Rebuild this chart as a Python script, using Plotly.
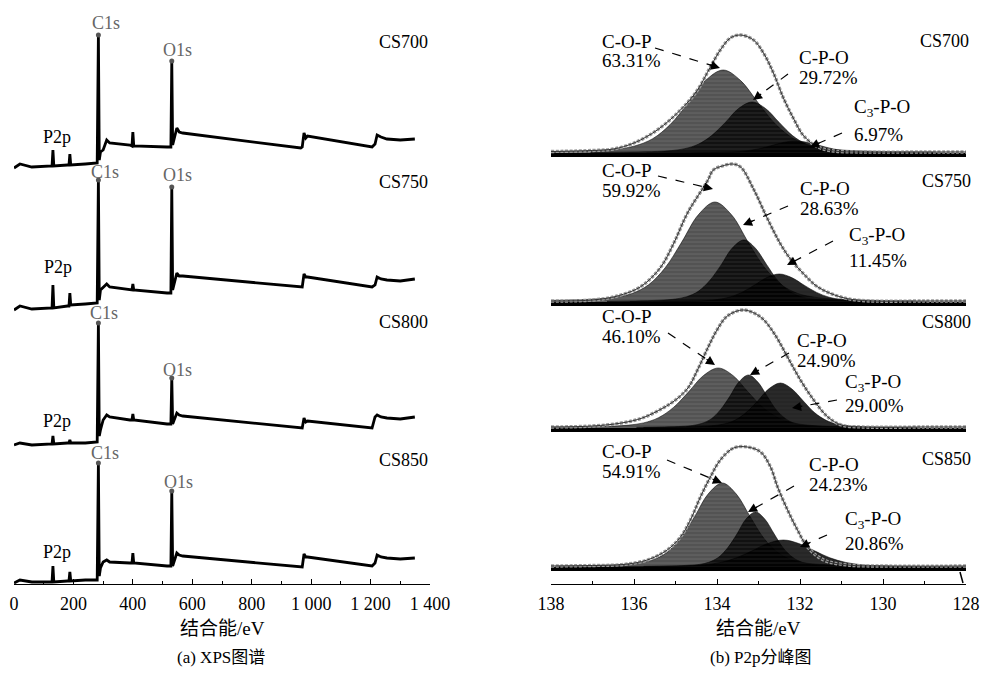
import plotly.graph_objects as go

W, H = 981, 673
def px(x): return x / W
def py(y): return 1 - y / H

SAMPLES = ["CS700", "CS750", "CS800", "CS850"]

# ---------------- (a) XPS survey spectra ----------------
SURVEY_EV = [0, 20, 60, 120, 128, 131, 134, 180, 185, 188, 191, 240, 280, 284, 287, 291,
             300, 312, 322, 390, 397, 400, 403, 515, 528, 531, 534, 548, 556, 568,
             965, 970, 976, 982, 988, 1205, 1215, 1222, 1235, 1255, 1300, 1349]
SURVEY_CS700 = [2, 6, 3, 4, 4, 20, 4, 5, 5, 16, 5, 6, 7, 135, 10, 18,
                20, 30, 27, 25, 24, 38, 24, 23, 23, 109, 25, 42, 38, 37,
                22, 23, 37, 32, 34, 23, 26, 35, 33, 31, 30, 31]
SURVEY_CS750 = [2, 6, 3, 4, 4, 27, 4, 6, 6, 19, 7, 8, 9, 132, 12, 22,
                25, 28, 25, 22, 22, 28, 22, 19, 19, 125, 22, 39, 36, 36,
                25, 25, 38, 35, 35, 25, 27, 35, 33, 32, 31, 33]
SURVEY_CS800 = [3, 5, 3, 4, 4, 12, 4, 5, 5, 8, 5, 5, 6, 125, 12, 18,
                28, 33, 31, 28, 28, 34, 28, 24, 24, 70, 24, 35, 33, 32,
                20, 20, 30, 26, 27, 20, 31, 33, 31, 30, 29, 31]
SURVEY_CS850 = [1, 4, 2, 2, 2, 18, 2, 3, 3, 12, 3, 4, 4, 121, 8, 16,
                22, 24, 22, 21, 21, 31, 21, 18, 18, 93, 18, 31, 29, 28,
                17, 17, 30, 27, 27, 18, 21, 29, 27, 26, 25, 26]
SURVEY_TICKS = [0, 200, 400, 600, 800, 1000, 1200, 1400]
SURVEY_TICKTEXT = ["0", "200", "400", "600", "800", "1 000", "1 200", "1 400"]
PEAK_EV = [284, 531]
PEAK_NAMES = ["C1s", "O1s"]

# ---------------- (b) P2p peak fitting ----------------
P2P_TICKS = [138, 136, 134, 132, 130, 128]
PCT_700 = ["63.31%", "29.72%", "6.97%"]
PCT_750 = ["59.92%", "28.63%", "11.45%"]
PCT_800 = ["46.10%", "24.90%", "29.00%"]
PCT_850 = ["54.91%", "24.23%", "20.86%"]
COMP_NAMES = ["C-O-P", "C-P-O", "C<sub>3</sub>-P-O"]

ENV_X_700 = [138, 137, 136.5, 136, 135.44, 134.88, 134.47, 134.16, 133.92, 133.68, 133.43, 133.12,
             132.88, 132.64, 132.4, 132.15, 131.91, 131.57, 131.19, 130.5, 129, 128]
ENV_Y_700 = [1.5, 2.5, 4, 10, 23, 43, 63, 86, 103, 115, 118, 113, 100, 80, 55, 34, 17, 6, 2, 1, 1, 1]
ENV_X_750 = [138, 137, 136.4, 135.85, 135.37, 135.05, 134.71, 134.23, 134.09, 133.87, 133.63, 133.43,
             133.12, 132.78, 132.47, 132.23, 131.91, 131.57, 131.02, 130.5, 129, 128]
ENV_Y_750 = [1, 2, 6, 15, 34, 58, 89, 121, 132, 136, 138, 135, 113, 83, 58, 43, 28, 15, 5, 1.5, 1, 1]
ENV_X_800 = [138, 137, 136.3, 135.8, 135.3, 135.0, 134.7, 134.47, 134.2, 134.0, 133.75, 133.36,
             132.95, 132.63, 132.3, 131.99, 131.67, 131.33, 131.0, 130.5, 129, 128]
ENV_Y_800 = [1, 2, 5, 10, 20, 28, 40, 58, 82, 98, 112, 118, 111, 95, 71, 48, 28, 11, 3, 1, 1, 1]
ENV_X_850 = [138, 137, 136.26, 135.68, 135.2, 134.88, 134.64, 134.4, 134.16, 133.92, 133.6, 133.27,
             132.95, 132.71, 132.54, 132.3, 132.06, 131.82, 131.43, 130.85, 130, 128]
ENV_Y_850 = [1, 1.5, 2.5, 7, 17, 30, 47, 70, 90, 107, 119, 120, 115, 100, 80, 57, 37, 20, 7, 2, 1, 1]

COP_X_700 = [128.75, 130.03, 130.88, 131.30, 131.73, 132.15, 132.58, 133.00, 133.43, 133.85,
             134.28, 134.70, 135.13, 135.55, 135.98, 136.40, 136.83, 137.68, 138.95]
COP_Y_700 = [0.9, 1.6, 2.7, 4.0, 7.1, 14.3, 28.4, 49.7, 72.4, 83, 72.4, 49.7, 28.4, 14.3, 7.1, 4.0, 2.7, 1.6, 0.9]
CPO_X_700 = [129.25, 130.23, 130.88, 131.20, 131.53, 131.85, 132.18, 132.50, 132.83, 133.15,
             133.48, 133.80, 134.13, 134.45, 134.78, 135.10, 135.43, 136.08, 137.05]
CPO_Y_700 = [0.6, 1.0, 1.6, 2.4, 4.3, 8.8, 17.4, 30.5, 44.5, 51, 44.5, 30.5, 17.4, 8.8, 4.3, 2.4, 1.6, 1.0, 0.6]
C3PO_X_700 = [128.5, 129.4, 130.0, 130.3, 130.6, 130.9, 131.2, 131.5, 131.8, 132.1,
              132.4, 132.7, 133.0, 133.3, 133.6, 133.9, 134.2, 134.8, 135.7]
C3PO_Y_700 = [0.1, 0.2, 0.4, 0.6, 1.0, 2.1, 4.1, 7.2, 10.5, 12, 10.5, 7.2, 4.1, 2.1, 1.0, 0.6, 0.4, 0.2, 0.1]

COP_X_750 = [129.25, 130.45, 131.25, 131.65, 132.05, 132.45, 132.85, 133.25, 133.65, 134.05,
             134.45, 134.85, 135.25, 135.65, 136.05, 136.45, 136.85, 137.65, 138.85]
COP_Y_750 = [1.1, 1.9, 3.2, 4.8, 8.5, 17.2, 34.2, 59.9, 87.2, 100, 87.2, 59.9, 34.2, 17.2, 8.5, 4.8, 3.2, 1.9, 1.1]
CPO_X_750 = [130.05, 130.88, 131.43, 131.70, 131.98, 132.25, 132.53, 132.80, 133.08, 133.35,
             133.63, 133.90, 134.18, 134.45, 134.73, 135.00, 135.28, 135.83, 136.65]
CPO_Y_750 = [0.7, 1.2, 2.0, 3.0, 5.3, 10.7, 21.2, 37.1, 54.1, 62, 54.1, 37.1, 21.2, 10.7, 5.3, 3.0, 2.0, 1.2, 0.7]
C3PO_X_750 = [128.9, 129.8, 130.4, 130.7, 131.0, 131.3, 131.6, 131.9, 132.2, 132.5,
              132.8, 133.1, 133.4, 133.7, 134.0, 134.3, 134.6, 135.2, 136.1]
C3PO_Y_750 = [0.3, 0.5, 0.9, 1.3, 2.4, 4.8, 9.6, 16.8, 24.4, 28, 24.4, 16.8, 9.6, 4.8, 2.4, 1.3, 0.9, 0.5, 0.3]

COP_X_800 = [129.65, 130.73, 131.45, 131.81, 132.17, 132.53, 132.89, 133.25, 133.61, 133.97,
             134.33, 134.69, 135.05, 135.41, 135.77, 136.13, 136.49, 137.21, 138.29]
COP_Y_800 = [0.7, 1.1, 1.9, 2.9, 5.1, 10.3, 20.5, 35.9, 52.3, 60, 52.3, 35.9, 20.5, 10.3, 5.1, 2.9, 1.9, 1.1, 0.7]
CPO_X_800 = [130.54, 131.22, 131.67, 131.89, 132.12, 132.34, 132.57, 132.79, 133.02, 133.24,
             133.47, 133.69, 133.92, 134.14, 134.37, 134.59, 134.82, 135.27, 135.94]
CPO_Y_800 = [0.6, 1.0, 1.7, 2.5, 4.5, 9.1, 18.1, 31.7, 46.2, 53, 46.2, 31.7, 18.1, 9.1, 4.5, 2.5, 1.7, 1.0, 0.6]
C3PO_X_800 = [129.17, 130.00, 130.55, 130.82, 131.10, 131.37, 131.65, 131.92, 132.20, 132.47,
              132.75, 133.02, 133.30, 133.57, 133.85, 134.12, 134.40, 134.95, 135.77]
C3PO_Y_800 = [0.5, 0.9, 1.4, 2.2, 3.8, 7.7, 15.4, 27.0, 39.2, 45, 39.2, 27.0, 15.4, 7.7, 3.8, 2.2, 1.4, 0.9, 0.5]

COP_X_850 = [129.85, 130.86, 131.53, 131.86, 132.20, 132.53, 132.87, 133.20, 133.54, 133.87,
             134.21, 134.54, 134.88, 135.21, 135.55, 135.88, 136.22, 136.89, 137.89]
COP_Y_850 = [0.9, 1.6, 2.7, 4.0, 7.1, 14.4, 28.7, 50.3, 73.2, 84, 73.2, 50.3, 28.7, 14.4, 7.1, 4.0, 2.7, 1.6, 0.9]
CPO_X_850 = [130.37, 131.05, 131.50, 131.72, 131.95, 132.17, 132.40, 132.62, 132.85, 133.07,
             133.30, 133.52, 133.75, 133.97, 134.20, 134.42, 134.65, 135.10, 135.77]
CPO_Y_850 = [0.6, 1.0, 1.8, 2.6, 4.7, 9.5, 18.8, 32.9, 48.0, 55, 48.0, 32.9, 18.8, 9.5, 4.7, 2.6, 1.8, 1.0, 0.6]
C3PO_X_850 = [127.9, 129.03, 129.78, 130.15, 130.53, 130.9, 131.28, 131.65, 132.03, 132.4,
              132.78, 133.15, 133.53, 133.9, 134.28, 134.65, 135.03, 135.78, 136.9]
C3PO_Y_850 = [0.3, 0.5, 0.9, 1.3, 2.3, 4.6, 9.2, 16.2, 23.5, 27, 23.5, 16.2, 9.2, 4.6, 2.3, 1.3, 0.9, 0.5, 0.3]

# ---------------- layout helpers (pixel positions) ----------------
LEFT_BASE = [170, 312, 448, 584]
RIGHT_BASE = [153, 302, 428, 567]
AXIS_Y = 584

SERIF = "Liberation Serif, Noto Sans CJK SC, serif"

survey = [SURVEY_CS700, SURVEY_CS750, SURVEY_CS800, SURVEY_CS850]
envs = [(ENV_X_700, ENV_Y_700), (ENV_X_750, ENV_Y_750), (ENV_X_800, ENV_Y_800), (ENV_X_850, ENV_Y_850)]
comps = [
    [(COP_X_700, COP_Y_700), (CPO_X_700, CPO_Y_700), (C3PO_X_700, C3PO_Y_700)],
    [(COP_X_750, COP_Y_750), (CPO_X_750, CPO_Y_750), (C3PO_X_750, C3PO_Y_750)],
    [(COP_X_800, COP_Y_800), (CPO_X_800, CPO_Y_800), (C3PO_X_800, C3PO_Y_800)],
    [(COP_X_850, COP_Y_850), (CPO_X_850, CPO_Y_850), (C3PO_X_850, C3PO_Y_850)],
]
pcts = [PCT_700, PCT_750, PCT_800, PCT_850]
COMP_BG = ["rgba(40,40,40,0.80)", "rgba(0,0,0,0.80)", "rgba(0,0,0,0.85)"]
COMP_FG = ["rgba(125,125,125,0.75)", "rgba(80,80,80,0.6)", "rgba(60,60,60,0.6)"]

fig = go.Figure()

for i, name in enumerate(SAMPLES):
    ya = "y" if i == 0 else f"y{i+1}"
    fig.add_trace(go.Scatter(x=SURVEY_EV, y=survey[i], xaxis="x", yaxis=ya, mode="lines",
                             line=dict(color="black", width=2.8), showlegend=False, hoverinfo="skip"))
    pk_y = [survey[i][SURVEY_EV.index(e)] for e in PEAK_EV]
    fig.add_trace(go.Scatter(x=PEAK_EV, y=pk_y, xaxis="x", yaxis=ya, mode="markers",
                             marker=dict(color="#555555", size=5), showlegend=False, hoverinfo="skip"))

for i, name in enumerate(SAMPLES):
    ya = f"y{i+5}"
    for k, (cx, cy) in enumerate(comps[i]):
        fig.add_trace(go.Scatter(x=cx, y=cy, xaxis="x2", yaxis=ya, mode="lines", line_shape="spline",
                                 fill="tozeroy", fillcolor=COMP_BG[k],
                                 fillpattern=dict(shape="-", bgcolor=COMP_BG[k], fgcolor=COMP_FG[k],
                                                  size=4, solidity=0.3),
                                 line=dict(color="rgba(0,0,0,0.9)", width=0.6),
                                 showlegend=False, hoverinfo="skip"))
    fig.add_trace(go.Scatter(x=[P2P_TICKS[0], P2P_TICKS[-1]], y=[-2, -2], xaxis="x2", yaxis=ya,
                             mode="lines", line=dict(color="black", width=4),
                             showlegend=False, hoverinfo="skip"))
    ex, ey = envs[i]
    fig.add_trace(go.Scatter(x=ex, y=ey, xaxis="x2", yaxis=ya, mode="lines", line_shape="spline",
                             line=dict(color="#9a9a9a", width=3.4, dash="3px,1.6px"),
                             showlegend=False, hoverinfo="skip"))
    fig.add_trace(go.Scatter(x=ex, y=ey, xaxis="x2", yaxis=ya, mode="lines", line_shape="spline",
                             line=dict(color="#333333", width=1),
                             showlegend=False, hoverinfo="skip"))

layout = dict(
    width=W, height=H, margin=dict(l=0, r=0, t=0, b=0, autoexpand=False),
    paper_bgcolor="white", plot_bgcolor="rgba(0,0,0,0)",
    font=dict(family=SERIF, size=18, color="black"),
    showlegend=False,
    xaxis=dict(domain=[px(14), px(430)], range=[0, 1400], anchor="free", position=py(AXIS_Y),
               tickvals=SURVEY_TICKS, ticktext=SURVEY_TICKTEXT, ticks="inside", ticklen=5,
               tickcolor="black", showline=True, linecolor="black", linewidth=1,
               showgrid=False, zeroline=False, ticklabelstandoff=3,
               minor=dict(ticks="inside", ticklen=3, dtick=100, tickcolor="black", showgrid=False),
               tickfont=dict(size=18)),
    xaxis2=dict(domain=[px(551), px(966)], range=[138, 128], anchor="free", position=py(AXIS_Y),
                tickvals=P2P_TICKS, ticks="inside", ticklen=5,
                tickcolor="black", showline=True, linecolor="black", linewidth=1,
                showgrid=False, zeroline=False, ticklabelstandoff=3,
                minor=dict(ticks="inside", ticklen=3, dtick=1, tickcolor="black", showgrid=False),
                tickfont=dict(size=18)),
)
for i in range(4):
    b = LEFT_BASE[i]
    key = "yaxis" if i == 0 else f"yaxis{i+1}"
    layout[key] = dict(domain=[py(b + 4), py(b - 140)], range=[-4, 140], anchor="x",
                       visible=False, showgrid=False, zeroline=False)
for i in range(4):
    b = RIGHT_BASE[i]
    layout[f"yaxis{i+5}"] = dict(domain=[py(b + 6), min(1.0, py(b - 150))], range=[-6, 150], anchor="x2",
                                 visible=False, showgrid=False, zeroline=False)
fig.update_layout(**layout)

ann = []
shapes = []
def text(x, y, s, color="black", size=18, xanchor="center"):
    ann.append(dict(x=px(x), y=py(y), xref="paper", yref="paper", text=s, showarrow=False,
                    xanchor=xanchor, yanchor="middle", font=dict(family=SERIF, size=size, color=color)))

# left panel labels
LEFT_LABELS = [
    [(106, 23), (177, 50), (57, 137), (403, 42)],
    [(105, 172), (177, 175), (58, 267), (403, 182)],
    [(104, 313), (177, 370), (57, 421), (403, 322)],
    [(105, 453), (178, 482), (57, 552), (403, 460)],
]
for i, name in enumerate(SAMPLES):
    (c1, o1, p2, cs) = LEFT_LABELS[i]
    text(*c1, PEAK_NAMES[0], color="#666666")
    text(*o1, PEAK_NAMES[1], color="#666666")
    text(*p2, "P2p")
    text(*cs, name)

# right panel labels and arrows
RIGHT_CS = [(944, 41), (946, 181), (946, 322), (946, 459)]
RIGHT_TXT = [
    [(600, 41, 60), (797, 57, 77), (852, 108, 135)],
    [(600, 170, 190), (798, 188, 208), (847, 236, 260)],
    [(600, 316, 336), (795, 340, 360), (843, 383, 405)],
    [(600, 452, 472), (807, 464, 484), (843, 520, 543)],
]
ARROWS = [
    [((655, 48), (720, 68)), ((788, 74), (753, 100)), ((842, 133), (810, 147))],
    [((658, 176), (713, 189)), ((788, 206), (743, 225)), ((833, 241), (787, 265))],
    [((668, 333), (715, 365)), ((789, 353), (750, 375)), ((837, 400), (792, 408))],
    [((667, 460), (722, 483)), ((794, 486), (748, 512)), ((827, 535), (800, 547))],
]
for i, name in enumerate(SAMPLES):
    text(*RIGHT_CS[i], name)
    for k in range(3):
        tx, y1, y2 = RIGHT_TXT[i][k]
        text(tx, y1, COMP_NAMES[k], size=19, xanchor="left")
        text(tx, y2, pcts[i][k], size=19, xanchor="left")
        (sx, sy), (ex_, ey_) = ARROWS[i][k]
        dx, dy = sx - ex_, sy - ey_
        L = (dx * dx + dy * dy) ** 0.5
        ux, uy = dx / L, dy / L
        shapes.append(dict(type="line", xref="paper", yref="paper",
                           x0=px(sx), y0=py(sy), x1=px(ex_ + ux * 8), y1=py(ey_ + uy * 8),
                           line=dict(color="black", width=1.2, dash="dash")))
        ann.append(dict(x=px(ex_), y=py(ey_), xref="paper", yref="paper", text="", showarrow=True,
                        ax=ux * 12, ay=uy * 12, arrowhead=2, arrowsize=1.4, arrowwidth=1.3,
                        arrowcolor="black"))

# small stroke at the lower right end of panel (b)
shapes.append(dict(type="line", xref="paper", yref="paper", x0=px(960), y0=py(572), x1=px(963), y1=py(583),
                   line=dict(color="black", width=1.5)))

# axis titles and captions
text(222, 628, "结合能/eV", size=19)
text(758, 628, "结合能/eV", size=19)
text(221, 657, "(a) XPS图谱", size=17)
text(761, 657, "(b) P2p分峰图", size=17)

fig.update_layout(annotations=ann, shapes=shapes)
fig.write_html("out.html", config={"displayModeBar": False},
               post_script="document.body.style.margin='0px';document.body.style.overflow='hidden';")
